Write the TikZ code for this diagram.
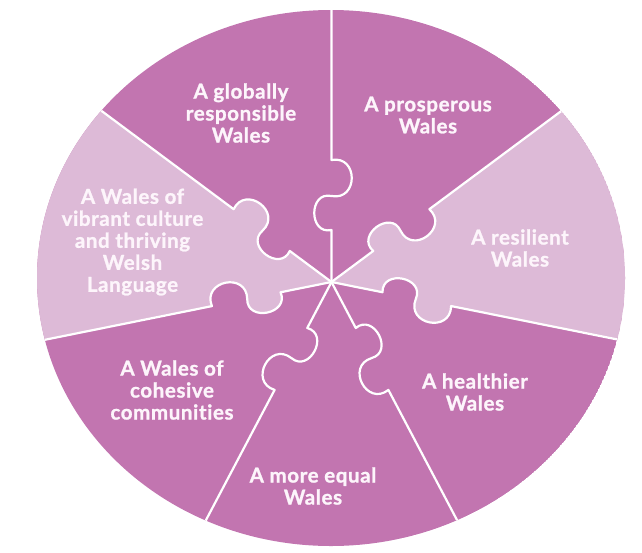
\documentclass[tikz,border=0pt]{standalone}
\usepackage{fontspec}
\setmainfont{Lato}
\newfontfamily\lblfont{Lato}[UprightFont=* Bold, FakeBold=1.2, LetterSpace=3, Ligatures=NoCommon]
\usetikzlibrary{calc}
\definecolor{darkp}{RGB}{194,117,176}
\definecolor{lightp}{RGB}{221,186,215}
\definecolor{txt}{RGB}{253,245,251}
% seam from hub outwards, with an S-shaped puzzle knob
\newcommand\rayout[1]{%
 -- ($(H)+(#1:52)$)
 .. controls ($(H)+(#1:47)+(#1+90:23)$) and ($(H)+(#1:91)+(#1+90:23)$) .. ($(H)+(#1:86)$)
 .. controls ($(H)+(#1:81)+(#1-90:27)$) and ($(H)+(#1:127)+(#1-90:27)$) .. ($(H)+(#1:122)$)
 -- ($(H)+(#1:450)$)}
% same seam from far outside inwards to the hub
\newcommand\rayin[1]{%
 -- ($(H)+(#1:450)$) -- ($(H)+(#1:122)$)
 .. controls ($(H)+(#1:127)+(#1-90:27)$) and ($(H)+(#1:81)+(#1-90:27)$) .. ($(H)+(#1:86)$)
 .. controls ($(H)+(#1:91)+(#1+90:23)$) and ($(H)+(#1:47)+(#1+90:23)$) .. ($(H)+(#1:52)$)
 -- (H)}
\begin{document}
\begin{tikzpicture}[x=1pt,y=1pt,
  lbl/.style={text=txt, font=\lblfont\fontsize{20.5}{22}\selectfont, align=center, inner sep=0pt},
  seam/.style={draw=white, line width=2.2pt, line join=round}]
\useasboundingbox (0,0) rectangle (642,-552);
\coordinate (H) at (331.5,-282);
\coordinate (E) at (331,-278);
\begin{scope}
  \clip (E) ellipse [x radius=294, y radius=268];
  \fill[darkp] (E) ellipse [x radius=294, y radius=268];
  \fill[lightp] (H) \rayout{-11.37} \rayin{36.65} -- cycle;
  \fill[lightp] (H) \rayout{143.35} \rayin{191.4} -- cycle;
  \foreach \a in {90,36.65,-11.37,-62.2,-117.8,191.4,143.35}
    \draw[seam] (H) \rayout{\a};
\end{scope}
\node[lbl] (glob) at (241,-113) {A globally\\responsible\\Wales};
\node[lbl] (pros) at (428,-115) {A prosperous\\Wales};
\node[lbl] (resi) at (520,-248) {A resilient\\Wales};
\node[lbl] (heal) at (475,-392) {A healthier\\Wales};
\node[lbl] (equa) at (313,-486) {A more equal\\Wales};
\node[lbl] (cohe) at (172,-390) {A Wales of\\cohesive\\communi{}ties};
\node[lbl] (vibr) at (132.5,-242) {A Wales of\\vibrant culture\\and thriving\\Welsh\\Language};
\end{tikzpicture}
\end{document}
